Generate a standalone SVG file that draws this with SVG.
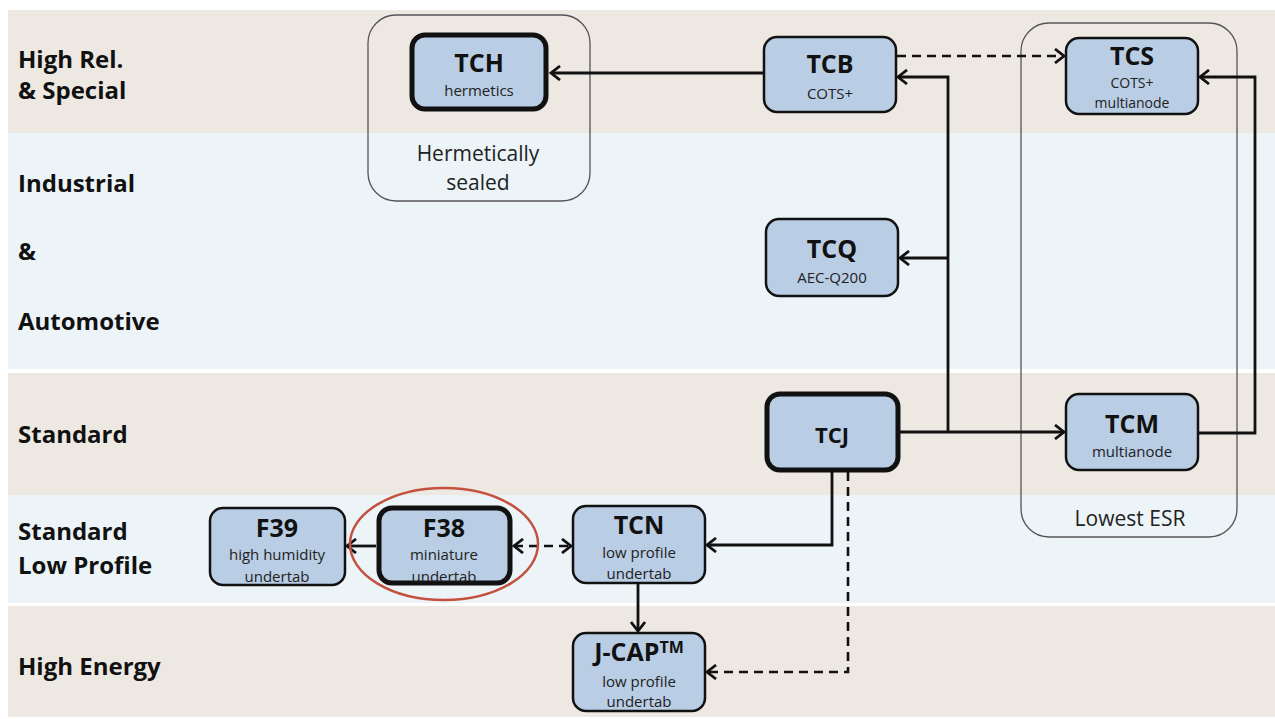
<svg xmlns="http://www.w3.org/2000/svg" width="1275" height="719" viewBox="0 0 1275 719">
<defs>
<style>
.band-b{fill:#ede9e2}
.band-l{fill:#ecf4f8}
.lab{font-family:"Open Sans","Liberation Sans",sans-serif;font-weight:700;font-size:24px;fill:#111}
.node{fill:#b9cde4;stroke:#111;stroke-width:2.5}
.thick{stroke-width:5}
.t{font-family:"Open Sans","Liberation Sans",sans-serif;font-weight:700;font-size:25px;fill:#111;text-anchor:middle}
.s{font-family:"Open Sans","Liberation Sans",sans-serif;font-size:15px;fill:#222;text-anchor:middle}
.s2{font-family:"Open Sans","Liberation Sans",sans-serif;font-size:14px;fill:#222;text-anchor:middle}
.grp{fill:none;stroke:#555;stroke-width:1.3}
.gl{font-family:"Open Sans","Liberation Sans",sans-serif;font-size:21px;fill:#222;text-anchor:middle}
.c{fill:none;stroke:#111;stroke-width:2.8}
.d{fill:none;stroke:#111;stroke-width:2.6;stroke-dasharray:9 6}
</style>
<marker id="ah" markerUnits="userSpaceOnUse" markerWidth="14" markerHeight="16" refX="11" refY="8" orient="auto-start-reverse">
<path d="M2,1 L11,8 L2,15" fill="none" stroke="#111" stroke-width="2.8"/>
</marker>
</defs>

<g id="bands">
<rect x="8" y="10" width="1267" height="123" class="band-b"/>
<rect x="8" y="133" width="1267" height="236" class="band-l"/>
<rect x="8" y="373" width="1267" height="122" class="band-b"/>
<rect x="8" y="495" width="1267" height="108" class="band-l"/>
<rect x="8" y="606" width="1267" height="111" class="band-b"/>
<text class="lab" x="18" y="68">High Rel.</text>
<text class="lab" x="18" y="99">&amp; Special</text>
<text class="lab" x="18" y="192">Industrial</text>
<text class="lab" x="18" y="260">&amp;</text>
<text class="lab" x="18" y="330">Automotive</text>
<text class="lab" x="18" y="443">Standard</text>
<text class="lab" x="18" y="540">Standard</text>
<text class="lab" x="18" y="574">Low Profile</text>
<text class="lab" x="18" y="675">High Energy</text>
</g>

<g id="group-hermetic">
<rect x="368" y="15" width="222" height="186" rx="28" class="grp"/>
<text class="gl" x="478" y="161">Hermetically</text>
<text class="gl" x="478" y="190">sealed</text>
</g>

<g id="group-esr">
<rect x="1021" y="23" width="216" height="514" rx="28" class="grp"/>
<text class="gl" x="1130" y="526">Lowest ESR</text>
</g>

<g id="connectors">
<path class="c" d="M764,73 H551" marker-end="url(#ah)"/>
<path class="d" d="M897,56 H1064" marker-end="url(#ah)"/>
<path class="c" d="M900,432 H1064" marker-end="url(#ah)"/>
<path class="c" d="M948,432 V77 H898" marker-end="url(#ah)"/>
<path class="c" d="M948,258 H900" marker-end="url(#ah)"/>
<path class="c" d="M1198,433 H1255 V77 H1200" marker-end="url(#ah)"/>
<path class="c" d="M832,472 V545 H707" marker-end="url(#ah)"/>
<path class="d" d="M848,472 V672 H707" marker-end="url(#ah)"/>
<path class="c" d="M638,584 V631" marker-end="url(#ah)"/>
<path class="c" d="M376,546 H347" marker-end="url(#ah)"/>
<path class="d" d="M514,546 H571" marker-start="url(#ah)" marker-end="url(#ah)"/>
</g>

<g id="node-TCH">
<rect x="412" y="35" width="134" height="74" rx="13" class="node thick"/>
<text class="t" x="479" y="72">TCH</text>
<text class="s" x="479" y="96">hermetics</text>
</g>

<g id="node-TCB">
<rect x="764" y="37" width="132" height="75" rx="13" class="node"/>
<text class="t" x="830" y="73">TCB</text>
<text class="s" x="830" y="99">COTS+</text>
</g>

<g id="node-TCS">
<rect x="1066" y="38" width="132" height="76" rx="13" class="node"/>
<text class="t" x="1132" y="65">TCS</text>
<text class="s2" x="1132" y="88">COTS+</text>
<text class="s2" x="1132" y="108">multianode</text>
</g>

<g id="node-TCQ">
<rect x="766" y="219" width="132" height="77" rx="13" class="node"/>
<text class="t" x="832" y="258">TCQ</text>
<text class="s" x="832" y="283">AEC-Q200</text>
</g>

<g id="node-TCJ">
<rect x="767" y="394" width="131" height="76" rx="13" class="node thick"/>
<text class="t" x="832" y="443" style="font-size:22px">TCJ</text>
</g>

<g id="node-TCM">
<rect x="1066" y="394" width="132" height="76" rx="13" class="node"/>
<text class="t" x="1132" y="433">TCM</text>
<text class="s" x="1132" y="457">multianode</text>
</g>

<g id="node-F39">
<rect x="210" y="508" width="135" height="77" rx="13" class="node"/>
<text class="t" x="277" y="537">F39</text>
<text class="s" x="277" y="560">high humidity</text>
<text class="s" x="277" y="582">undertab</text>
</g>

<g id="node-F38">
<rect x="379" y="508" width="131" height="75" rx="13" class="node thick"/>
<text class="t" x="444" y="537">F38</text>
<text class="s" x="444" y="560">miniature</text>
<text class="s" x="444" y="582">undertab</text>
</g>

<g id="highlight">
<ellipse cx="444" cy="544" rx="94" ry="56" fill="none" stroke="#c4503f" stroke-width="2.5"/>
</g>

<g id="node-TCN">
<rect x="573" y="506" width="132" height="77" rx="13" class="node"/>
<text class="t" x="639" y="534">TCN</text>
<text class="s" x="639" y="558">low profile</text>
<text class="s" x="639" y="579">undertab</text>
</g>

<g id="node-JCAP">
<rect x="573" y="633" width="132" height="78" rx="13" class="node"/>
<text class="t" x="639" y="661">J-CAP<tspan style="font-size:16px" dy="-8">TM</tspan></text>
<text class="s" x="639" y="687">low profile</text>
<text class="s" x="639" y="707">undertab</text>
</g>
</svg>
